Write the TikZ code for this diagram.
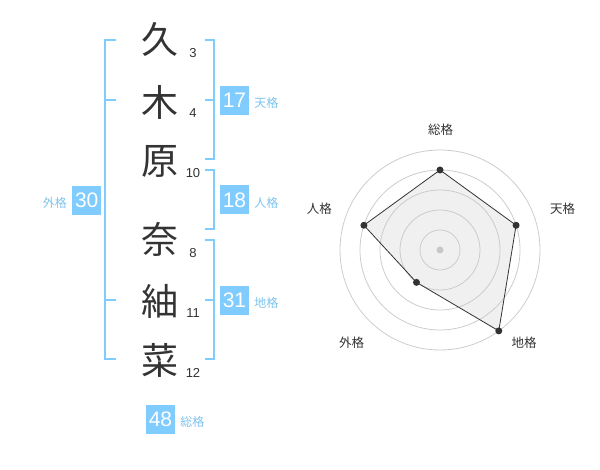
\documentclass[tikz,border=0pt]{standalone}
\usepackage{fontspec}
\setmainfont{Liberation Sans}
\newfontfamily\jp{Noto Sans CJK JP}
\usetikzlibrary{positioning}
\definecolor{kakublue}{HTML}{80CCFF}
\definecolor{kakutext}{HTML}{7DC3EE}
\definecolor{inkgray}{HTML}{333333}

\begin{document}
\begin{tikzpicture}[x=1pt,y=1pt]
		\tikzstyle{kanji}=[inner sep=0pt, text=inkgray, font=\jp\fontsize{37}{37}\selectfont]
		\tikzstyle{kakusu}=[inner sep=0pt, text=inkgray, font=\fontsize{13}{13}\selectfont]
		\tikzstyle{score}=[rectangle, fill=kakublue, minimum size=29pt, inner sep=0pt, text=white, font=\fontsize{21}{21}\selectfont]
		\tikzstyle{kaku}=[inner sep=0pt, text=kakutext, font=\jp\fontsize{12}{12}\selectfont, node distance=5pt, yshift=-2.5pt]
		\tikzstyle{bracket}=[draw=kakublue, line width=2pt]
		\tikzstyle{ring}=[draw=black!20, line width=0.8pt]
		\tikzstyle{radardot}=[circle, fill=inkgray, inner sep=0pt, minimum size=7pt]
		\tikzstyle{radarlabel}=[inner sep=0pt, text=inkgray, font=\jp\fontsize{12.5}{12.5}\selectfont]
		\useasboundingbox (0,0) rectangle (600,470);
		
		% name
		\node[kanji] (c1) at (160,430) {久};
		\node[kanji] (c2) at (160,368) {木};
		\node[kanji] (c3) at (160,309) {原};
		\node[kanji] (c4) at (160,231) {奈};
		\node[kanji] (c5) at (160,169) {紬};
		\node[kanji] (c6) at (160,110) {菜};
		
		\node[kakusu] (n1) at (193,417) {3};
		\node[kakusu] (n2) at (193,357) {4};
		\node[kakusu] (n3) at (193,297) {10};
		\node[kakusu] (n4) at (193,217) {8};
		\node[kakusu] (n5) at (193,157) {11};
		\node[kakusu] (n6) at (193,97)  {12};
		
		% brackets
		\draw[bracket] (116,430) -| (105,110.7) -- (116,110.7);
		\draw[bracket] (105,370) -- (116,370);
		\draw[bracket] (105,170) -- (116,170);
		
		\draw[bracket] (205,430) -| (214.3,310.7) -- (205,310.7);
		\draw[bracket] (205,370) -- (214.3,370);
		\draw[bracket] (205,300) -| (214.3,240.7) -- (205,240.7);
		\draw[bracket] (205,230) -| (214.3,110.7) -- (205,110.7);
		\draw[bracket] (205,170) -- (214.3,170);
		
		\node[score] (b30) at (86.7,269.7) {30};
		\node[kaku]  (k30) [left=of b30] {外格};
		\node[score] (b17) at (234.5,369.5) {17};
		\node[kaku]  (k17) [right=of b17] {天格};
		\node[score] (b18) at (234.5,270) {18};
		\node[kaku]  (k18) [right=of b18] {人格};
		\node[score] (b31) at (234.5,169.7) {31};
		\node[kaku]  (k31) [right=of b31] {地格};
		\node[score] (b48) at (160.5,50.5) {48};
		\node[kaku]  (k48) [right=of b48] {総格};
		
		% radar
		\begin{scope}[shift={(440,220)}]
		\coordinate (o)   at (0,0);
		\coordinate (sou) at (90:80);
		\coordinate (ten) at (18:80);
		\coordinate (chi) at (-54:100);
		\coordinate (gai) at (-126:40);
		\coordinate (jin) at (162:80);
		\fill[black!6] (sou) -- (ten) -- (chi) -- (gai) -- (jin) -- cycle;
		\foreach \r in {20,40,...,100}
			\draw[ring] (o) circle (\r);
		\fill[black!22] (o) circle (3.5);
		\draw[inkgray, line width=0.8pt] (sou) -- (ten) -- (chi) -- (gai) -- (jin) -- cycle;
		\foreach \p in {sou,ten,chi,gai,jin}
			\node[radardot] at (\p) {};
		\node[radarlabel] (lsou) at (0.7,120)     {総格};
		\node[radarlabel] (lten) at (122.7,41.7)  {天格};
		\node[radarlabel] (lchi) at (84,-92.3)    {地格};
		\node[radarlabel] (lgai) at (-88.3,-92.3) {外格};
		\node[radarlabel] (ljin) at (-120.7,41.7) {人格};
		\end{scope}
		
\end{tikzpicture}
\end{document}
